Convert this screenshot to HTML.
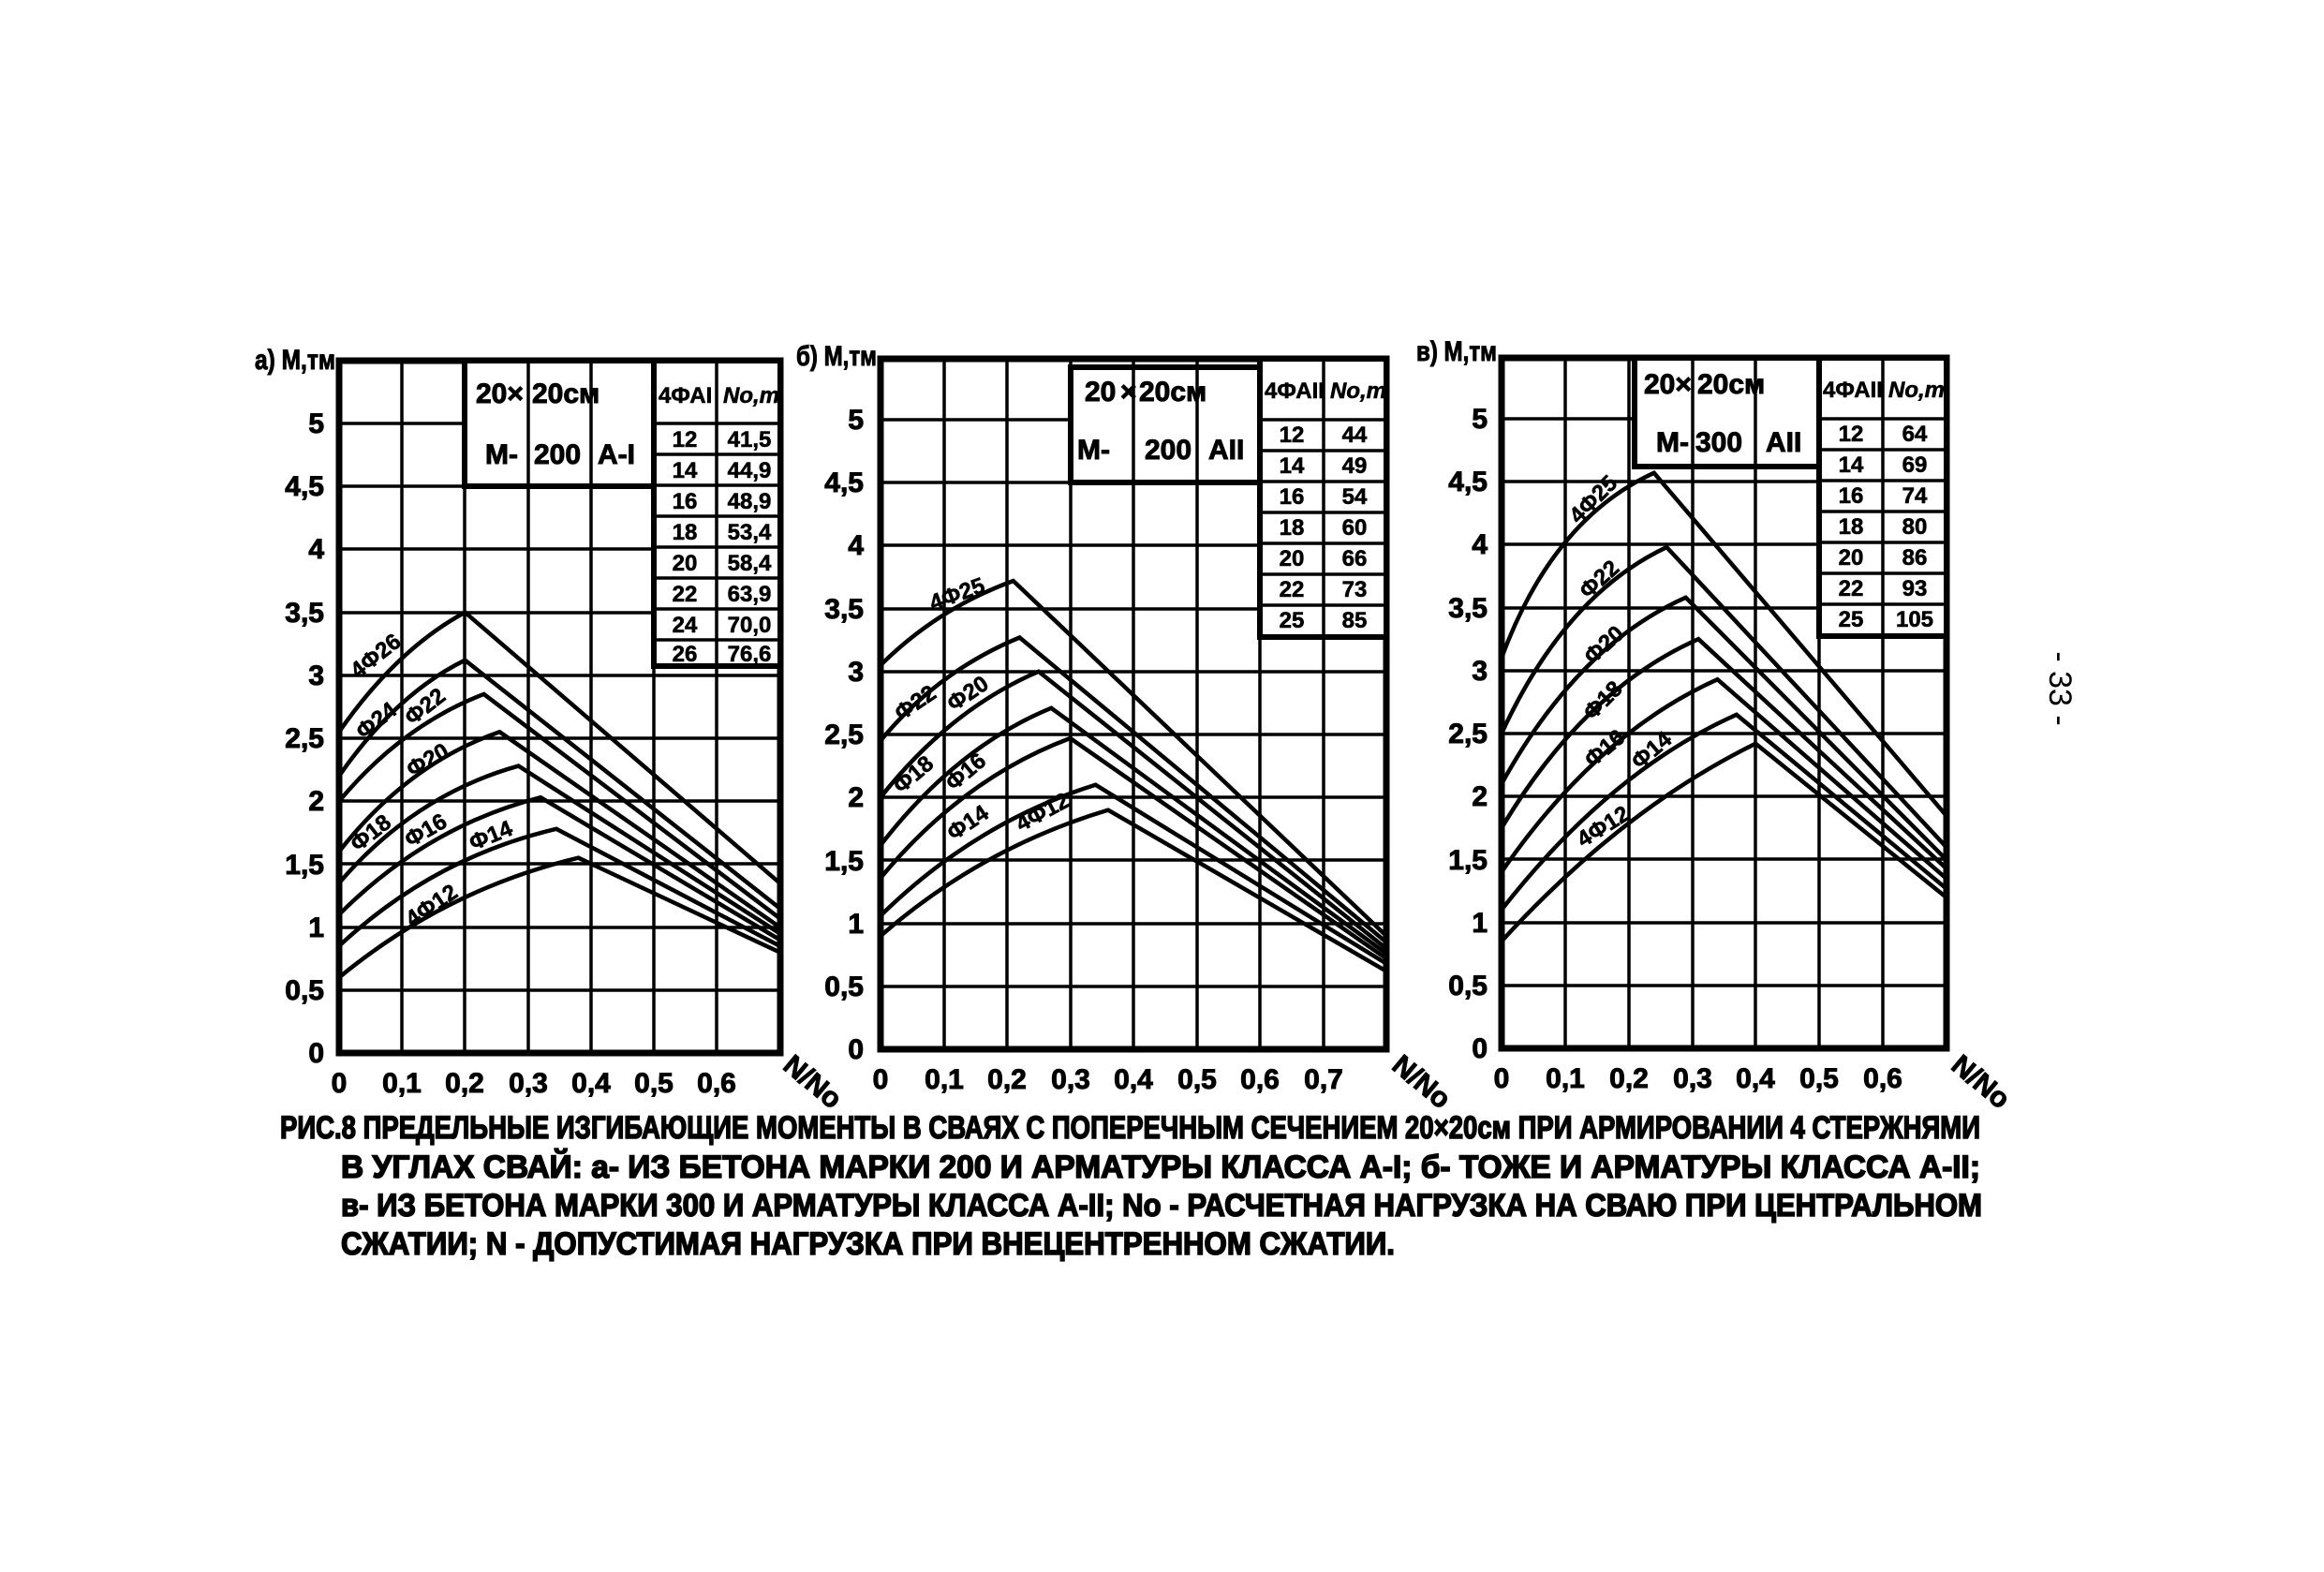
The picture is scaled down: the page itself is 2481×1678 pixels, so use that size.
<!DOCTYPE html>
<html><head><meta charset="utf-8"><style>
html,body{margin:0;padding:0;background:#fff}
svg{display:block}
text{font-family:"Liberation Sans","DejaVu Sans",sans-serif;font-weight:bold;fill:#000}
.t{font-size:30px;stroke:#000;stroke-width:1}
.c{font-size:34px;stroke:#000;stroke-width:1.6}
.g{stroke:#000;stroke-width:3.5;fill:none}
.f{stroke:#000;stroke-width:7;fill:none}
.cv{stroke:#000;stroke-width:4.5;fill:none;vector-effect:non-scaling-stroke}
.lb{font-size:24px;stroke:#000;stroke-width:0.6}
</style></head><body>
<svg width="2481" height="1678" viewBox="0 0 2481 1678" xmlns="http://www.w3.org/2000/svg">
<rect width="2481" height="1678" fill="#fff"/>

<!-- ===== Chart a ===== -->
<g>
<path class="g" d="M429,385V1124M496,385V1124M564,385V1124M631,385V1124M698,385V1124M765,385V1124
M362,452H833M362,519H833M362,586H833M362,654H833M362,721H833M362,788H833M362,855H833M362,922H833M362,990H833M362,1057H833"/>
<rect class="f" x="362" y="385" width="471" height="739"/>
<g transform="translate(362,1124) scale(672,-134.4)">
<path class="cv" d="M0,2.55 Q0.09,3.2 0.2,3.5 L0.7,1.35"/>
<path class="cv" d="M0,2.2 Q0.09,2.85 0.2,3.12 L0.7,1.15"/>
<path class="cv" d="M0,2.0 Q0.1,2.6 0.23,2.85 L0.7,1.07"/>
<path class="cv" d="M0,1.6 Q0.11,2.3 0.255,2.55 L0.7,1.0"/>
<path class="cv" d="M0,1.35 Q0.12,2.05 0.285,2.28 L0.7,0.95"/>
<path class="cv" d="M0,1.1 Q0.14,1.8 0.32,2.03 L0.7,0.9"/>
<path class="cv" d="M0,0.85 Q0.15,1.55 0.345,1.78 L0.7,0.85"/>
<path class="cv" d="M0,0.6 Q0.17,1.3 0.38,1.55 L0.7,0.8"/>
</g>
<rect x="496" y="385" width="202" height="134" fill="#fff" stroke="#000" stroke-width="6"/>
<path class="g" d="M564,385V519M631,385V519"/>
<text class="t" x="508" y="430">20×</text><text class="t" x="568" y="430">20см</text>
<text class="t" x="518" y="495">М-</text><text class="t" x="570" y="495">200</text><text class="t" x="638" y="495">А-I</text>
<rect x="698" y="385" width="135" height="326" fill="#fff" stroke="#000" stroke-width="6"/>
<path class="g" d="M765,385V711M698,452H833M698,485H833M698,518H833M698,551H833M698,584H833M698,617H833M698,650H833M698,683H833"/>
<text class="lb" x="703" y="430">4ФАI</text><text class="lb" x="772" y="430" font-style="italic">Nо,т</text>
<g class="lb" text-anchor="middle">
<text x="731" y="477">12</text><text x="800" y="477">41,5</text>
<text x="731" y="510">14</text><text x="800" y="510">44,9</text>
<text x="731" y="543">16</text><text x="800" y="543">48,9</text>
<text x="731" y="576">18</text><text x="800" y="576">53,4</text>
<text x="731" y="609">20</text><text x="800" y="609">58,4</text>
<text x="731" y="642">22</text><text x="800" y="642">63,9</text>
<text x="731" y="675">24</text><text x="800" y="675">70,0</text>
<text x="731" y="706">26</text><text x="800" y="706">76,6</text>
</g>
<g class="t" text-anchor="end">
<text x="346" y="1134">0</text><text x="346" y="1067">0,5</text><text x="346" y="1000">1</text>
<text x="346" y="933">1,5</text><text x="346" y="865">2</text><text x="346" y="798">2,5</text>
<text x="346" y="731">3</text><text x="346" y="664">3,5</text><text x="346" y="596">4</text>
<text x="346" y="529">4,5</text><text x="346" y="462">5</text>
</g>
<text class="t" x="272" y="394" textLength="86" lengthAdjust="spacingAndGlyphs">а) М,тм</text>
<g class="t" text-anchor="middle">
<text x="362" y="1166">0</text><text x="429" y="1166">0,1</text><text x="496" y="1166">0,2</text>
<text x="564" y="1166">0,3</text><text x="631" y="1166">0,4</text><text x="698" y="1166">0,5</text><text x="765" y="1166">0,6</text>
</g>
<text class="t" x="838" y="1150" transform="rotate(40 850 1140)">N/Nо</text>
<g class="lb">
<text transform="translate(382,725) rotate(-38)">4Ф26</text>
<text transform="translate(388,790) rotate(-38)">Ф24</text>
<text transform="translate(440,775) rotate(-38)">Ф22</text>
<text transform="translate(440,830) rotate(-30)">Ф20</text>
<text transform="translate(382,910) rotate(-38)">Ф18</text>
<text transform="translate(438,905) rotate(-30)">Ф16</text>
<text transform="translate(505,908) rotate(-22)">Ф14</text>
<text transform="translate(440,990) rotate(-34)">4Ф12</text>
</g>
</g>

<!-- ===== Chart b ===== -->
<g>
<path class="g" d="M1008,383V1120M1075,383V1120M1143,383V1120M1210,383V1120M1278,383V1120M1345,383V1120M1413,383V1120
M940,448H1480M940,515H1480M940,582H1480M940,650H1480M940,717H1480M940,784H1480M940,851H1480M940,918H1480M940,986H1480M940,1053H1480"/>
<rect class="f" x="940" y="383" width="540" height="737"/>
<g transform="translate(940,1120) scale(675,-134.4)">
<path class="cv" d="M0,3.05 Q0.09,3.5 0.21,3.72 L0.8,0.9"/>
<path class="cv" d="M0,2.45 Q0.09,3.0 0.22,3.27 L0.8,0.85"/>
<path class="cv" d="M0,2.0 Q0.11,2.7 0.25,3.0 L0.8,0.8"/>
<path class="cv" d="M0,1.62 Q0.12,2.4 0.27,2.71 L0.8,0.76"/>
<path class="cv" d="M0,1.36 Q0.13,2.15 0.3,2.47 L0.8,0.72"/>
<path class="cv" d="M0,1.06 Q0.15,1.8 0.34,2.1 L0.8,0.68"/>
<path class="cv" d="M0,0.9 Q0.16,1.6 0.36,1.9 L0.8,0.62"/>
</g>
<rect x="1143" y="392" width="202" height="123" fill="#fff" stroke="#000" stroke-width="6"/>
<path class="g" d="M1210,392V515M1278,392V515"/>
<text class="t" x="1158" y="428">20</text><text class="t" x="1196" y="428">×</text><text class="t" x="1216" y="428">20см</text>
<text class="t" x="1150" y="490">М-</text><text class="t" x="1222" y="490">200</text><text class="t" x="1290" y="490">АII</text>
<rect x="1345" y="383" width="135" height="297" fill="#fff" stroke="#000" stroke-width="6"/>
<path class="g" d="M1413,383V680M1345,448H1480M1345,481H1480M1345,514H1480M1345,547H1480M1345,580H1480M1345,613H1480M1345,646H1480"/>
<text class="lb" x="1350" y="425">4ФАII</text><text class="lb" x="1420" y="425" font-style="italic">Nо,т</text>
<g class="lb" text-anchor="middle">
<text x="1379" y="472">12</text><text x="1446" y="472">44</text>
<text x="1379" y="505">14</text><text x="1446" y="505">49</text>
<text x="1379" y="538">16</text><text x="1446" y="538">54</text>
<text x="1379" y="571">18</text><text x="1446" y="571">60</text>
<text x="1379" y="604">20</text><text x="1446" y="604">66</text>
<text x="1379" y="637">22</text><text x="1446" y="637">73</text>
<text x="1379" y="670">25</text><text x="1446" y="670">85</text>
</g>
<g class="t" text-anchor="end">
<text x="922" y="1130">0</text><text x="922" y="1063">0,5</text><text x="922" y="996">1</text>
<text x="922" y="929">1,5</text><text x="922" y="861">2</text><text x="922" y="794">2,5</text>
<text x="922" y="727">3</text><text x="922" y="660">3,5</text><text x="922" y="592">4</text>
<text x="922" y="525">4,5</text><text x="922" y="458">5</text>
</g>
<text class="t" x="850" y="390" textLength="86" lengthAdjust="spacingAndGlyphs">б) М,тм</text>
<g class="t" text-anchor="middle">
<text x="940" y="1162">0</text><text x="1008" y="1162">0,1</text><text x="1075" y="1162">0,2</text>
<text x="1143" y="1162">0,3</text><text x="1210" y="1162">0,4</text><text x="1278" y="1162">0,5</text>
<text x="1345" y="1162">0,6</text><text x="1413" y="1162">0,7</text>
</g>
<text class="t" x="1488" y="1150" transform="rotate(40 1500 1140)">N/Nо</text>
<g class="lb">
<text transform="translate(996,652) rotate(-20)">4Ф25</text>
<text transform="translate(962,770) rotate(-34)">Ф22</text>
<text transform="translate(1018,760) rotate(-34)">Ф20</text>
<text transform="translate(962,848) rotate(-40)">Ф18</text>
<text transform="translate(1018,845) rotate(-40)">Ф16</text>
<text transform="translate(1018,898) rotate(-34)">Ф14</text>
<text transform="translate(1090,888) rotate(-28)">4Ф12</text>
</g>
</g>

<!-- ===== Chart c ===== -->
<g>
<path class="g" d="M1671,382V1119M1739,382V1119M1807,382V1119M1874,382V1119M1942,382V1119M2010,382V1119
M1603,447H2078M1603,514H2078M1603,581H2078M1603,649H2078M1603,716H2078M1603,783H2078M1603,850H2078M1603,917H2078M1603,985H2078M1603,1052H2078"/>
<rect class="f" x="1603" y="382" width="475" height="737"/>
<g transform="translate(1603,1119) scale(678,-134.4)">
<path class="cv" d="M0,3.1 Q0.08,4.2 0.24,4.57 L0.7,1.85"/>
<path class="cv" d="M0,2.5 Q0.1,3.6 0.26,3.98 L0.7,1.6"/>
<path class="cv" d="M0,2.1 Q0.12,3.2 0.29,3.58 L0.7,1.5"/>
<path class="cv" d="M0,1.75 Q0.13,2.85 0.31,3.25 L0.7,1.43"/>
<path class="cv" d="M0,1.4 Q0.15,2.5 0.34,2.93 L0.7,1.35"/>
<path class="cv" d="M0,1.1 Q0.17,2.2 0.37,2.65 L0.7,1.27"/>
<path class="cv" d="M0,0.85 Q0.19,1.9 0.4,2.42 L0.7,1.2"/>
</g>
<rect x="1745" y="382" width="197" height="116" fill="#fff" stroke="#000" stroke-width="6"/>
<path class="g" d="M1807,382V498M1874,382V498"/>
<text class="t" x="1755" y="420">20×</text><text class="t" x="1812" y="420">20см</text>
<text class="t" x="1768" y="482">М-</text><text class="t" x="1810" y="482">300</text><text class="t" x="1885" y="482">АII</text>
<rect x="1942" y="382" width="136" height="297" fill="#fff" stroke="#000" stroke-width="6"/>
<path class="g" d="M2010,382V679M1942,447H2078M1942,480H2078M1942,513H2078M1942,546H2078M1942,579H2078M1942,612H2078M1942,645H2078"/>
<text class="lb" x="1946" y="424">4ФАII</text><text class="lb" x="2016" y="424" font-style="italic">Nо,т</text>
<g class="lb" text-anchor="middle">
<text x="1976" y="471">12</text><text x="2044" y="471">64</text>
<text x="1976" y="504">14</text><text x="2044" y="504">69</text>
<text x="1976" y="537">16</text><text x="2044" y="537">74</text>
<text x="1976" y="570">18</text><text x="2044" y="570">80</text>
<text x="1976" y="603">20</text><text x="2044" y="603">86</text>
<text x="1976" y="636">22</text><text x="2044" y="636">93</text>
<text x="1976" y="669">25</text><text x="2044" y="669">105</text>
</g>
<g class="t" text-anchor="end">
<text x="1588" y="1129">0</text><text x="1588" y="1062">0,5</text><text x="1588" y="995">1</text>
<text x="1588" y="928">1,5</text><text x="1588" y="860">2</text><text x="1588" y="793">2,5</text>
<text x="1588" y="726">3</text><text x="1588" y="659">3,5</text><text x="1588" y="591">4</text>
<text x="1588" y="524">4,5</text><text x="1588" y="457">5</text>
</g>
<text class="t" x="1512" y="385" textLength="86" lengthAdjust="spacingAndGlyphs">в) М,тм</text>
<g class="t" text-anchor="middle">
<text x="1603" y="1161">0</text><text x="1671" y="1161">0,1</text><text x="1739" y="1161">0,2</text>
<text x="1807" y="1161">0,3</text><text x="1874" y="1161">0,4</text><text x="1942" y="1161">0,5</text><text x="2010" y="1161">0,6</text>
</g>
<text class="t" x="2085" y="1150" transform="rotate(40 2097 1140)">N/Nо</text>
<g class="lb">
<text transform="translate(1685,560) rotate(-45)">4Ф25</text>
<text transform="translate(1695,640) rotate(-42)">Ф22</text>
<text transform="translate(1700,710) rotate(-42)">Ф20</text>
<text transform="translate(1700,770) rotate(-45)">Ф18</text>
<text transform="translate(1700,820) rotate(-40)">Ф16</text>
<text transform="translate(1750,822) rotate(-40)">Ф14</text>
<text transform="translate(1690,905) rotate(-32)">4Ф12</text>
</g>
</g>

<!-- caption -->
<g class="c">
<text x="299" y="1215" textLength="1815" lengthAdjust="spacingAndGlyphs">РИС.8  ПРЕДЕЛЬНЫЕ ИЗГИБАЮЩИЕ МОМЕНТЫ В СВАЯХ С ПОПЕРЕЧНЫМ СЕЧЕНИЕМ 20×20см ПРИ АРМИРОВАНИИ 4 СТЕРЖНЯМИ</text>
<text x="364" y="1257" textLength="1750" lengthAdjust="spacingAndGlyphs">В УГЛАХ СВАЙ: а- ИЗ БЕТОНА МАРКИ 200 И АРМАТУРЫ КЛАССА А-I; б- ТОЖЕ И АРМАТУРЫ КЛАССА А-II;</text>
<text x="364" y="1298" textLength="1752" lengthAdjust="spacingAndGlyphs">в- ИЗ БЕТОНА МАРКИ 300 И АРМАТУРЫ КЛАССА А-II; Nо - РАСЧЕТНАЯ НАГРУЗКА НА СВАЮ ПРИ ЦЕНТРАЛЬНОМ</text>
<text x="364" y="1339" textLength="1125" lengthAdjust="spacingAndGlyphs">СЖАТИИ; N - ДОПУСТИМАЯ НАГРУЗКА ПРИ ВНЕЦЕНТРЕННОМ СЖАТИИ.</text>
</g>
<text x="2188" y="735" font-size="34" transform="rotate(90 2188 735)" text-anchor="middle" style="font-weight:normal">- 33 -</text>
</svg>
</body></html>
